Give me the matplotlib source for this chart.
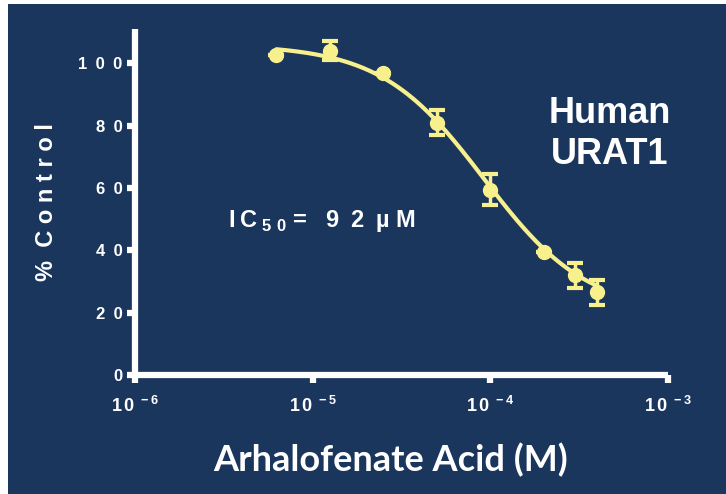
import matplotlib
matplotlib.use("Agg")
import matplotlib.pyplot as plt
from matplotlib.patches import Rectangle
from matplotlib.ticker import FixedLocator, FixedFormatter, NullLocator
import numpy as np

# arhalofenate acid concentrations (M) and response (% of control)
conc = [6.25e-6, 1.25e-5, 2.5e-5, 5e-5, 1e-4, 2e-4, 3e-4, 4e-4]
pct_control = [102.5, 104, 97, 81, 59.5, 39.5, 32, 26.5]
pct_err = [0, 3, 0, 4, 5, 0, 4, 4]

# fitted dose-response curve parameters (4PL)
fit_top = 106
fit_bottom = 20
fit_hill = 1.5
fit_ic50 = 92e-6

x_ticks = [1e-6, 1e-5, 1e-4, 1e-3]
x_tick_labels = ["-6", "-5", "-4", "-3"]
y_ticks = [0, 20, 40, 60, 80, 100]

NAVY = "#1b365d"
YELLOW = "#f8f08c"
WHITE = "white"
ESP = "\u2002"


def spaced(s, sep=ESP):
    return sep.join(list(s))


def hill(x):
    x = np.asarray(x)
    return fit_bottom + (fit_top - fit_bottom) / (1 + (x / fit_ic50) ** fit_hill)


plt.rcParams["mathtext.fontset"] = "custom"
plt.rcParams["mathtext.rm"] = "Liberation Sans:bold"
plt.rcParams["mathtext.bf"] = "Liberation Sans:bold"

fig = plt.figure(figsize=(7.26, 4.94), dpi=100, facecolor=WHITE)
fig.patches.append(Rectangle((8 / 726, 0), 1, 1 - 4 / 494, transform=fig.transFigure,
                             facecolor=NAVY, edgecolor="none", zorder=-10))

ax = fig.add_axes([135 / 726, 119 / 494, 533 / 726, 346 / 494])
ax.patch.set_alpha(0)
ax.set_xscale("log")
ax.set_xlim(1e-6, 1e-3)
ax.set_ylim(0, 111)

for side in ["top", "right"]:
    ax.spines[side].set_visible(False)
for side in ["left", "bottom"]:
    ax.spines[side].set_color(WHITE)
    ax.spines[side].set_linewidth(4.5)
    ax.spines[side].set_capstyle("butt")

ax.xaxis.set_major_locator(FixedLocator(x_ticks))
ax.xaxis.set_major_formatter(FixedFormatter(
    [r"$\mathbf{1\,0^{\ %s}}$" % e for e in x_tick_labels]))
ax.xaxis.set_minor_locator(NullLocator())
ax.set_yticks(y_ticks)
ax.set_yticklabels([spaced(str(v)) for v in y_ticks])
ax.tick_params(axis="both", colors=WHITE, direction="out", length=6, width=4.5)
ax.tick_params(axis="y", pad=3, labelsize=12)
ax.tick_params(axis="x", pad=9, labelsize=13)
for lab in ax.get_yticklabels():
    lab.set_family(["Liberation Sans", "DejaVu Sans"])
    lab.set_fontweight("bold")

# fitted curve
xs = np.logspace(np.log10(conc[0]), np.log10(conc[-1]), 200)
ax.plot(xs, hill(xs), color=YELLOW, lw=3, zorder=3, solid_capstyle="round")

# data with error bars
ax.errorbar(conc, pct_control, yerr=pct_err, fmt="o", color=YELLOW, ms=10,
            elinewidth=2.5, capsize=6, capthick=3, zorder=4)

fig.text(610 / 726, 1 - 134 / 494, "Human\nURAT1", color=WHITE, fontsize=26,
         fontweight="bold", family="Liberation Sans", ha="center", va="center",
         linespacing=1.2)

ic_label = "I\u2009C" + r"$_{\mathbf{\ 5\ 0}}$" + " = " + ESP + "9" + ESP + "2" + ESP + "µ M"
fig.text(228 / 726, 1 - 221 / 494, ic_label, color=WHITE,
         fontsize=17, fontweight="bold", family=["Liberation Sans", "DejaVu Sans"],
         ha="left", va="center")

fig.text(47 / 726, 1 - 202 / 494, "%  C o n t r o l", color=WHITE, fontsize=17,
         fontweight="bold", family="Liberation Sans", rotation=90, ha="center", va="center")

fig.text(391 / 726, 1 - 460 / 494, "Arhalofenate Acid (M)", color=WHITE, fontsize=26,
         fontweight="bold", family="Lato", ha="center", va="center")

fig.savefig("out.png", dpi=100, facecolor=fig.get_facecolor())
